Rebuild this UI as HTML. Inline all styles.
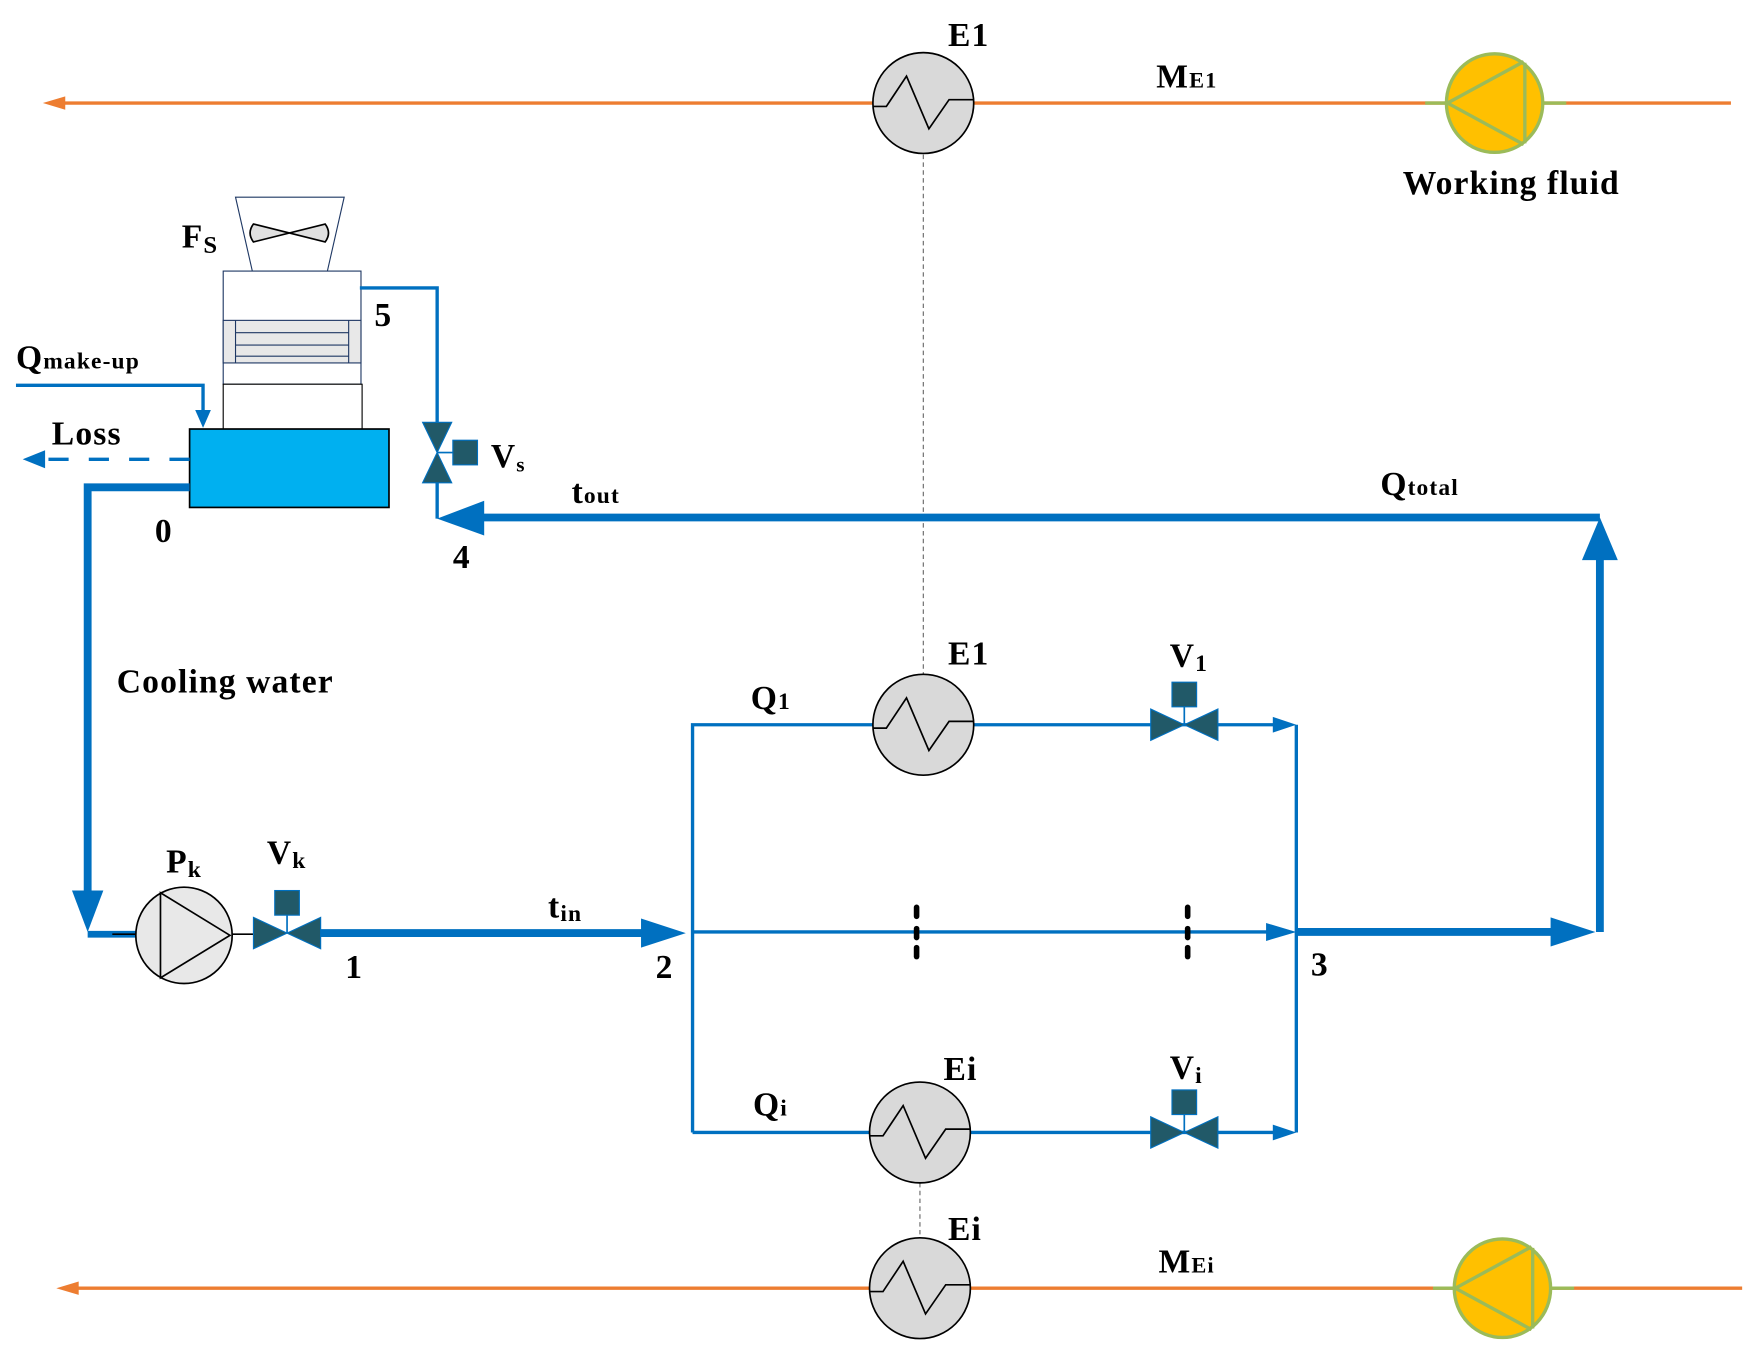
<!DOCTYPE html>
<html><head><meta charset="utf-8"><style>html,body{margin:0;padding:0;background:#fff}svg{display:block}text{font-family:"Liberation Serif",serif;font-weight:bold;fill:#000;letter-spacing:1px}</style></head><body>
<svg width="1757" height="1361" viewBox="0 0 1568 1215" xmlns="http://www.w3.org/2000/svg">
<defs>
<g id="hx"><ellipse cx="0" cy="0" rx="45" ry="45" fill="#d9d9d9" stroke="#000" stroke-width="1.5"/><polyline points="-45,0 -33,0 -15,-27 5,20 23,-6 45,-6" fill="none" stroke="#000" stroke-width="1.5" transform="translate(0,3)"/></g>
<g id="wp"><line x1="-62" y1="0" x2="-43" y2="0" stroke="#9BBB59" stroke-width="3"/><line x1="43" y1="0" x2="64" y2="0" stroke="#9BBB59" stroke-width="3"/><ellipse cx="0" cy="0" rx="43" ry="44" fill="#FFC000" stroke="#9BBB59" stroke-width="3"/><polyline points="26,-37 -42,0 26,37" fill="none" stroke="#9BBB59" stroke-width="3"/><line x1="27" y1="-36" x2="27" y2="36" stroke="#9BBB59" stroke-width="3"/></g>
<g id="vh"><polygon points="-30,-14 0,0 -30,14" fill="#215968" stroke="#0070C0" stroke-width="1"/><polygon points="30,-14 0,0 30,14" fill="#215968" stroke="#0070C0" stroke-width="1"/><line x1="0" y1="0" x2="0" y2="-18" stroke="#0070C0" stroke-width="1.5"/><rect x="-11" y="-38" width="22" height="22" fill="#215968" stroke="#0070C0" stroke-width="1"/></g>
</defs>
<line x1="52" y1="92" x2="1545" y2="92" stroke="#ED7D31" stroke-width="3"/>
<polygon points="38,92 58,86 58,98" fill="#ED7D31"/>
<use href="#hx" x="824" y="92"/>
<use href="#wp" x="1334" y="92"/>
<line x1="824" y1="138" x2="824" y2="602" stroke="#666" stroke-width="1" stroke-dasharray="4,3"/>
<line x1="64" y1="1150" x2="1555" y2="1150" stroke="#ED7D31" stroke-width="3"/>
<polygon points="50,1150 70,1144 70,1156" fill="#ED7D31"/>
<use href="#hx" x="821" y="1150"/>
<use href="#wp" x="1341" y="1150"/>
<line x1="821" y1="1056" x2="821" y2="1105" stroke="#666" stroke-width="1" stroke-dasharray="4,3"/>
<polygon points="210,176 307,176 292,242 225,242" fill="#fff" stroke="#1f3864" stroke-width="1"/>
<path d="M226,200 Q220,208 226,216 L290,200 Q296,208 290,216 Z" fill="#e0e0e0" stroke="#000" stroke-width="1.5"/>
<rect x="199" y="242" width="123" height="101" fill="#fff" stroke="#1f3864" stroke-width="1"/>
<rect x="199" y="286" width="123" height="38" fill="#e8e8e8" stroke="#1f3864" stroke-width="1"/>
<line x1="210" y1="286" x2="210" y2="324" stroke="#1f3864"/><line x1="311" y1="286" x2="311" y2="324" stroke="#1f3864"/>
<line x1="210" y1="297" x2="311" y2="297" stroke="#1f3864"/><line x1="210" y1="308" x2="311" y2="308" stroke="#1f3864"/><line x1="210" y1="318" x2="311" y2="318" stroke="#1f3864"/>
<rect x="199" y="343" width="124" height="40" fill="#fff" stroke="#000" stroke-width="1"/>
<rect x="169" y="383" width="178" height="70" fill="#00B0F0" stroke="#000" stroke-width="1.5"/>
<polyline points="14,344 181,344 181,370" fill="none" stroke="#0070C0" stroke-width="3"/>
<polygon points="174,366 188,366 181,382" fill="#0070C0"/>
<line x1="169" y1="410" x2="38" y2="410" stroke="#0070C0" stroke-width="3" stroke-dasharray="18,18"/>
<polygon points="20,410 40,402 40,418" fill="#0070C0"/>
<polyline points="321,257 390,257 390,378" fill="none" stroke="#0070C0" stroke-width="3"/>
<line x1="390" y1="430" x2="390" y2="463" stroke="#0070C0" stroke-width="3"/>
<polygon points="377,377 403,377 390,404" fill="#215968" stroke="#0070C0"/>
<polygon points="377,431 403,431 390,404" fill="#215968" stroke="#0070C0"/>
<line x1="390" y1="404" x2="404" y2="404" stroke="#0070C0" stroke-width="1.5"/>
<rect x="404" y="393" width="22" height="22" fill="#215968" stroke="#0070C0"/>
<line x1="425" y1="462" x2="1428" y2="462" stroke="#0070C0" stroke-width="7"/>
<polygon points="390,463 432,447 432,478" fill="#0070C0"/>
<line x1="1428" y1="832" x2="1428" y2="496" stroke="#0070C0" stroke-width="7"/>
<polygon points="1428,462 1412,500 1444,500" fill="#0070C0"/>
<polyline points="169,435 78,435 78,800" fill="none" stroke="#0070C0" stroke-width="7"/>
<polygon points="78,832 64,795 92,795" fill="#0070C0"/>
<line x1="78" y1="834" x2="122" y2="834" stroke="#0070C0" stroke-width="6"/>
<line x1="100" y1="834" x2="122" y2="834" stroke="#000" stroke-width="1.5"/>
<circle cx="164" cy="835" r="43" fill="#e8e8e8" stroke="#000" stroke-width="1.5"/>
<polygon points="143,797 143,873 205,835" fill="none" stroke="#000" stroke-width="1.5"/>
<line x1="207" y1="834" x2="226" y2="834" stroke="#000" stroke-width="1.5"/>
<use href="#vh" x="256" y="833"/>
<line x1="286" y1="833" x2="580" y2="833" stroke="#0070C0" stroke-width="7"/>
<polygon points="612,833 572,820 572,846" fill="#0070C0"/>
<g stroke="#0070C0" stroke-width="3" fill="none">
<polyline points="618,1011 618,647 780,647"/>
<line x1="868" y1="647" x2="1140" y2="647"/>
<line x1="618" y1="832" x2="1140" y2="832"/>
<line x1="618" y1="1011" x2="777" y2="1011"/>
<line x1="865" y1="1011" x2="1140" y2="1011"/>
<line x1="1157" y1="647" x2="1157" y2="1011"/>
</g>
<polygon points="1157,647 1136,640 1136,654" fill="#0070C0"/>
<polygon points="1157,832 1130,824 1130,840" fill="#0070C0"/>
<polygon points="1157,1011 1136,1004 1136,1018" fill="#0070C0"/>
<use href="#hx" x="824" y="647"/>
<use href="#hx" x="821" y="1011"/>
<use href="#vh" x="1057" y="647"/>
<use href="#vh" x="1057" y="1011"/>
<g stroke="#000" stroke-width="5" stroke-linecap="round"><line x1="818" y1="810" x2="818" y2="818"/><line x1="818" y1="829" x2="818" y2="837"/><line x1="818" y1="846" x2="818" y2="854"/><line x1="1060" y1="810" x2="1060" y2="818"/><line x1="1060" y1="829" x2="1060" y2="837"/><line x1="1060" y1="846" x2="1060" y2="854"/></g>
<line x1="1157" y1="832" x2="1390" y2="832" stroke="#0070C0" stroke-width="7"/>
<polygon points="1424,832 1384,819 1384,845" fill="#0070C0"/>
<g font-size="30">
<text x="846" y="41">E1</text>
<text x="1032" y="78">M<tspan font-size="20">E1</tspan></text>
<text x="1252" y="173">Working fluid</text>
<text x="162" y="221">F<tspan font-size="22" dy="5">S</tspan></text>
<text x="334" y="291">5</text>
<text x="14" y="329">Q<tspan font-size="21">make-up</tspan></text>
<text x="46" y="397">Loss</text>
<text x="438" y="417">V<tspan font-size="19" dy="4">s</tspan></text>
<text x="510" y="449">t<tspan font-size="21">out</tspan></text>
<text x="1232" y="442">Q<tspan font-size="21">total</tspan></text>
<text x="404" y="507">4</text>
<text x="138" y="484">0</text>
<text x="104" y="618">Cooling water</text>
<text x="846" y="593">E1</text>
<text x="670" y="633">Q<tspan font-size="21">1</tspan></text>
<text x="1044" y="595">V<tspan font-size="21" dy="4">1</tspan></text>
<text x="148" y="779">P<tspan font-size="21" dy="4">k</tspan></text>
<text x="238" y="771">V<tspan font-size="21" dy="4">k</tspan></text>
<text x="489" y="819">t<tspan font-size="21" dy="3">in</tspan></text>
<text x="308" y="873">1</text>
<text x="585" y="873">2</text>
<text x="1170" y="871">3</text>
<text x="842" y="964">Ei</text>
<text x="672" y="996">Q<tspan font-size="21">i</tspan></text>
<text x="1044" y="963">V<tspan font-size="21" dy="4">i</tspan></text>
<text x="846" y="1107">Ei</text>
<text x="1034" y="1136">M<tspan font-size="20">Ei</tspan></text>
</g>
</svg>
</body></html>
